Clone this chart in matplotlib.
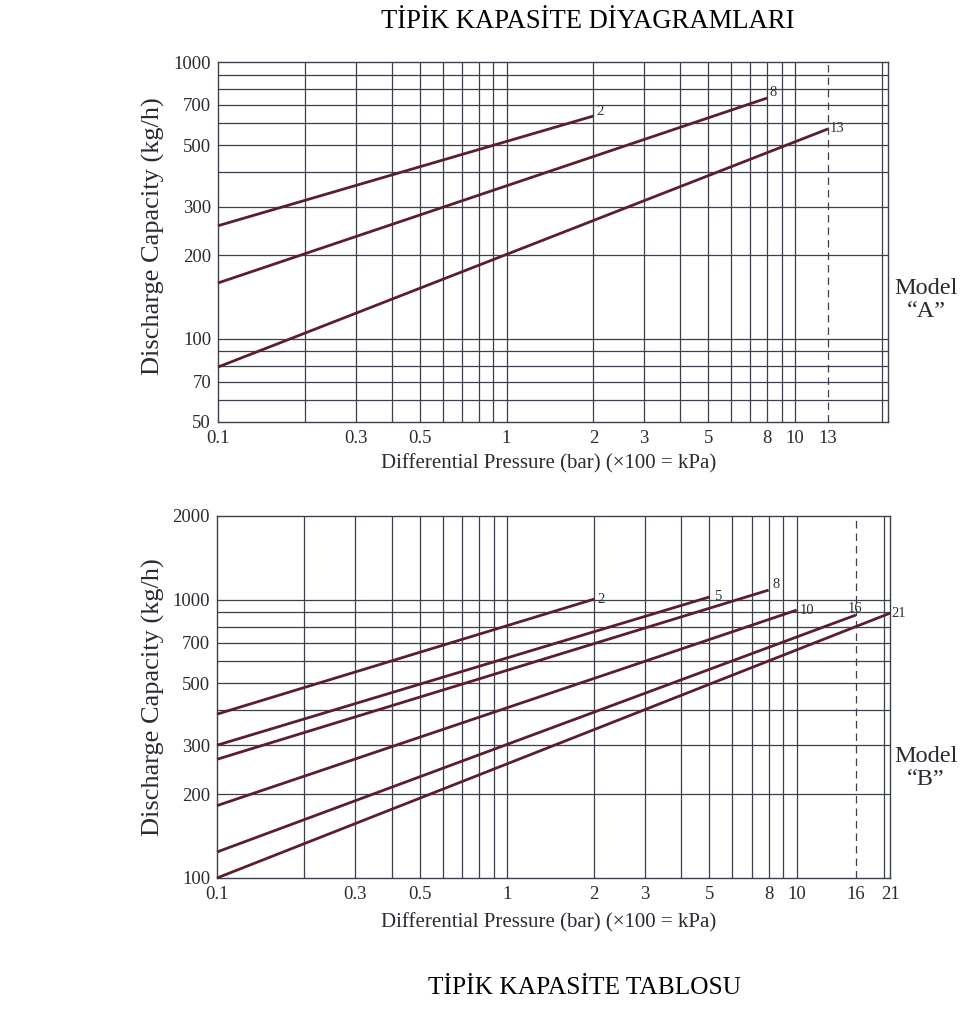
import matplotlib
matplotlib.use("Agg")
import matplotlib.pyplot as plt

plt.rcParams['font.family'] = ['Liberation Serif', 'DejaVu Serif']

# Model "A" curves: label, capacity at 0.1 bar, end pressure, capacity at end
a_labels = ["2", "8", "13"]
a_start = [256, 159, 79]
a_end_p = [2, 8, 13]
a_end_v = [638, 741, 573]

# Model "B" curves
b_labels = ["2", "5", "8", "10", "16", "21"]
b_start = [388, 300, 267, 182, 124, 100]
b_end_p = [2, 5, 8, 10, 16, 21]
b_end_v = [1005, 1023, 1083, 918, 881, 895]

a_xticks = [0.1, 0.3, 0.5, 1, 2, 3, 5, 8, 10, 13]
a_xticklabels = ["0.1", "0.3", "0.5", "1", "2", "3", "5", "8", "10", "13"]
a_yticks = [50, 70, 100, 200, 300, 500, 700, 1000]

b_xticks = [0.1, 0.3, 0.5, 1, 2, 3, 5, 8, 10, 16, 21]
b_xticklabels = ["0.1", "0.3", "0.5", "1", "2", "3", "5", "8", "10", "16", "21"]
b_yticks = [100, 200, 300, 500, 700, 1000, 2000]

vgrid = [0.2, 0.3, 0.4, 0.5, 0.6, 0.7, 0.8, 0.9, 1, 2, 3, 4, 5, 6, 7, 8, 9, 10, 20]
a_hgrid = [60, 70, 80, 90, 100, 200, 300, 400, 500, 600, 700, 800, 900]
b_hgrid = [200, 300, 400, 500, 600, 700, 800, 900, 1000]

line_color = "#5a1e30"
grid_color = "#3c3f4c"
text_color = "#2a2a33"

fig = plt.figure(figsize=(9.75, 10.27), dpi=100)
ax_a = fig.add_axes([0.2236, 0.5891, 0.6872, 0.3505])
ax_b = fig.add_axes([0.2226, 0.1451, 0.6903, 0.3525])


def setup_axes(ax, ylim, xticks, xticklabels, yticks, hgrid, dashed_x):
    ax.set_xscale("log")
    ax.set_yscale("log")
    ax.set_xlim(0.1, 21)
    ax.set_ylim(*ylim)
    for x in vgrid:
        ax.axvline(x, color=grid_color, lw=0.9, zorder=1)
    ax.axvline(dashed_x, color=grid_color, lw=0.9, ls=(0, (6, 4)), zorder=1)
    for y in hgrid:
        ax.axhline(y, color=grid_color, lw=0.9, zorder=1)
    ax.set_xticks(xticks)
    ax.set_xticklabels(xticklabels)
    ax.set_yticks(yticks)
    ax.set_yticklabels([str(v) for v in yticks])
    ax.minorticks_off()
    ax.tick_params(length=0, labelsize=13.5, colors=text_color)
    ax.tick_params(axis="x", pad=6)
    ax.tick_params(axis="y", pad=5)
    for s in ax.spines.values():
        s.set_color(grid_color)
        s.set_linewidth(1.0)


def draw_curves(ax, labels, start, end_p, end_v, offsets):
    for lab, v0, p1, v1, off in zip(labels, start, end_p, end_v, offsets):
        ax.plot([0.1, p1], [v0, v1], color=line_color, lw=2.0, zorder=3,
                solid_capstyle="butt", clip_on=False)
        ax.annotate(lab, (p1, v1), xytext=off, textcoords="offset points",
                    fontsize=10.5, color="#333333", ha="left", va="center")


setup_axes(ax_a, (50, 1000), a_xticks, a_xticklabels, a_yticks, a_hgrid, 13)
draw_curves(ax_a, a_labels, a_start, a_end_p, a_end_v,
            [(2, 3), (2, 4), (1, 0)])

setup_axes(ax_b, (100, 2000), b_xticks, b_xticklabels, b_yticks, b_hgrid, 16)
draw_curves(ax_b, b_labels, b_start, b_end_p, b_end_v,
            [(2, 0), (3, 0), (3, 4), (2, 0), (-6, 5), (1, 0)])

# axis labels
for yc in [1 - 236 / 1027, 1 - 697 / 1027]:
    fig.text(153 / 975, yc, "Discharge Capacity (kg/h)", rotation=90,
             ha="center", va="center", fontsize=19, color=text_color)
for yc in [1 - 464 / 1027, 1 - 923 / 1027]:
    fig.text(549 / 975, yc, "Differential Pressure (bar) (\u00d7100 = kPa)",
             ha="center", va="center", fontsize=15, color=text_color)

fig.text(926 / 975, 1 - 300 / 1027, "Model\n\u201cA\u201d", ha="center",
         va="center", fontsize=17.5, color=text_color, linespacing=1.15)
fig.text(926 / 975, 1 - 768 / 1027, "Model\n\u201cB\u201d", ha="center",
         va="center", fontsize=17.5, color=text_color, linespacing=1.15)

fig.text(588 / 975, 1 - 22 / 1027, "T\u0130P\u0130K KAPAS\u0130TE D\u0130YAGRAMLARI",
         ha="center", va="center", fontsize=19.2, color="black")
fig.text(585 / 975, 1 - 988 / 1027, "T\u0130P\u0130K KAPAS\u0130TE TABLOSU",
         ha="center", va="center", fontsize=18.3, color="black")

fig.savefig("out.png", dpi=100)
